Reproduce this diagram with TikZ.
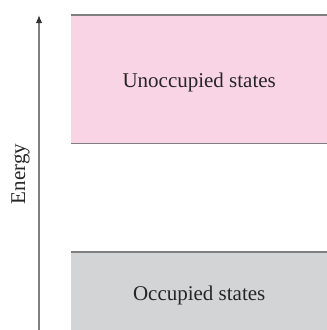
\documentclass[tikz,border=0pt]{standalone}
\usepackage{fontspec}
\setmainfont{Liberation Serif}
\usepackage{xcolor}
\usetikzlibrary{arrows.meta}
\definecolor{bandpink}{HTML}{F8D4E4}
\definecolor{bandgray}{HTML}{D3D4D6}
\definecolor{edgegray}{HTML}{7F7F7F}

\begin{document}
\begin{tikzpicture}[>=Latex, x=1pt, y=-1pt,
    band/.style={inner sep=0pt, minimum width=256pt, anchor=north west},
    edge/.style={edgegray, line width=1.8pt},
    lbl/.style={font=\fontsize{21}{25}\selectfont, text=black!85}]
  \useasboundingbox (0,0) rectangle (327,330);
  \node[band, fill=bandpink, minimum height=128pt] (upper) at (71,15) {};
  \node[band, fill=bandgray, minimum height=78pt] (lower) at (71,252) {};
  \draw[edge] (upper.north west) -- (upper.north east);
  \draw[edge] (upper.south west) -- (upper.south east);
  \draw[edge] (lower.north west) -- (lower.north east);
  \node[lbl, yshift=-3pt] (unocc) at (upper.center) {Unoccupied states};
  \node[lbl, yshift=-4pt] (occ) at (lower.center) {Occupied states};
  \coordinate (ebot) at (39,330);
  \coordinate (etop) at (39,15);
  \draw[->, edgegray, line width=1.5pt, >={Latex[length=8pt, width=6.5pt, black!80]}] (ebot) -- (etop);
  \node[lbl, rotate=90, anchor=base] (energy) at (25,174) {Energy};
\end{tikzpicture}
\end{document}
